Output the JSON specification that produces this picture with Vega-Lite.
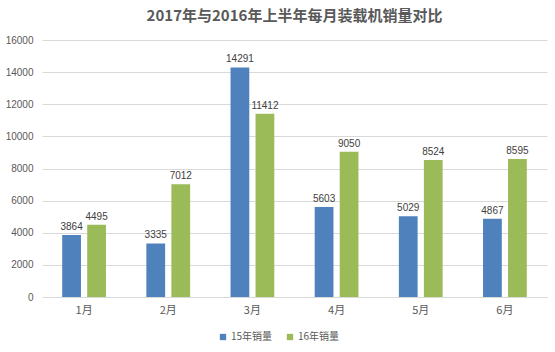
{
  "$schema": "https://vega.github.io/schema/vega-lite/v6.json",
  "autosize": "none",
  "width": 505,
  "height": 257,
  "padding": {"left": 42, "top": 40, "right": 8, "bottom": 55},
  "background": "white",
  "title": {
    "text": "2017年与2016年上半年每月装载机销量对比",
    "font": "Noto Sans CJK SC",
    "fontSize": 15,
    "fontWeight": "bold",
    "color": "#595959",
    "anchor": "middle",
    "offset": 11
  },
  "data": {
    "values": [
      {"month": "1月", "series": "15年销量", "value": 3864},
      {"month": "1月", "series": "16年销量", "value": 4495},
      {"month": "2月", "series": "15年销量", "value": 3335},
      {"month": "2月", "series": "16年销量", "value": 7012},
      {"month": "3月", "series": "15年销量", "value": 14291},
      {"month": "3月", "series": "16年销量", "value": 11412},
      {"month": "4月", "series": "15年销量", "value": 5603},
      {"month": "4月", "series": "16年销量", "value": 9050},
      {"month": "5月", "series": "15年销量", "value": 5029},
      {"month": "5月", "series": "16年销量", "value": 8524},
      {"month": "6月", "series": "15年销量", "value": 4867},
      {"month": "6月", "series": "16年销量", "value": 8595}
    ]
  },
  "encoding": {
    "x": {
      "field": "month",
      "type": "nominal",
      "sort": null,
      "scale": {"paddingInner": 0.48, "paddingOuter": 0.24},
      "axis": {
        "title": null,
        "labelAngle": 0,
        "labelFont": "Noto Sans CJK SC",
        "labelFontSize": 11,
        "labelColor": "#595959",
        "labelPadding": 7,
        "ticks": false,
        "domainColor": "#d9d9d9",
        "grid": false
      }
    },
    "xOffset": {
      "field": "series",
      "type": "nominal",
      "scale": {"paddingInner": 0.25, "paddingOuter": 0}
    },
    "y": {
      "field": "value",
      "type": "quantitative",
      "scale": {"domain": [0, 16000], "nice": false},
      "axis": {
        "title": null,
        "values": [0, 2000, 4000, 6000, 8000, 10000, 12000, 14000, 16000],
        "format": "d",
        "labelFont": "Liberation Sans",
        "labelFontSize": 10,
        "labelColor": "#595959",
        "labelPadding": 9,
        "ticks": false,
        "domain": false,
        "gridColor": "#d9d9d9"
      }
    }
  },
  "layer": [
    {
      "mark": {"type": "bar"},
      "encoding": {
        "color": {
          "field": "series",
          "type": "nominal",
          "scale": {"domain": ["15年销量", "16年销量"], "range": ["#4f81bd", "#9bbb59"]},
          "legend": {
            "title": null,
            "orient": "none",
            "direction": "horizontal",
            "legendX": 176,
            "legendY": 292,
            "symbolType": "square",
            "symbolSize": 40,
            "symbolStrokeWidth": 0,
            "labelFont": "Noto Sans CJK SC",
            "labelFontSize": 10,
            "labelColor": "#595959",
            "labelOffset": 3,
            "columnPadding": 12
          }
        }
      }
    },
    {
      "mark": {
        "type": "text",
        "dy": -8,
        "font": "Liberation Sans",
        "fontSize": 10,
        "color": "#404040"
      },
      "encoding": {
        "text": {"field": "value", "type": "quantitative", "format": "d"}
      }
    }
  ],
  "config": {
    "view": {"stroke": null}
  }
}
